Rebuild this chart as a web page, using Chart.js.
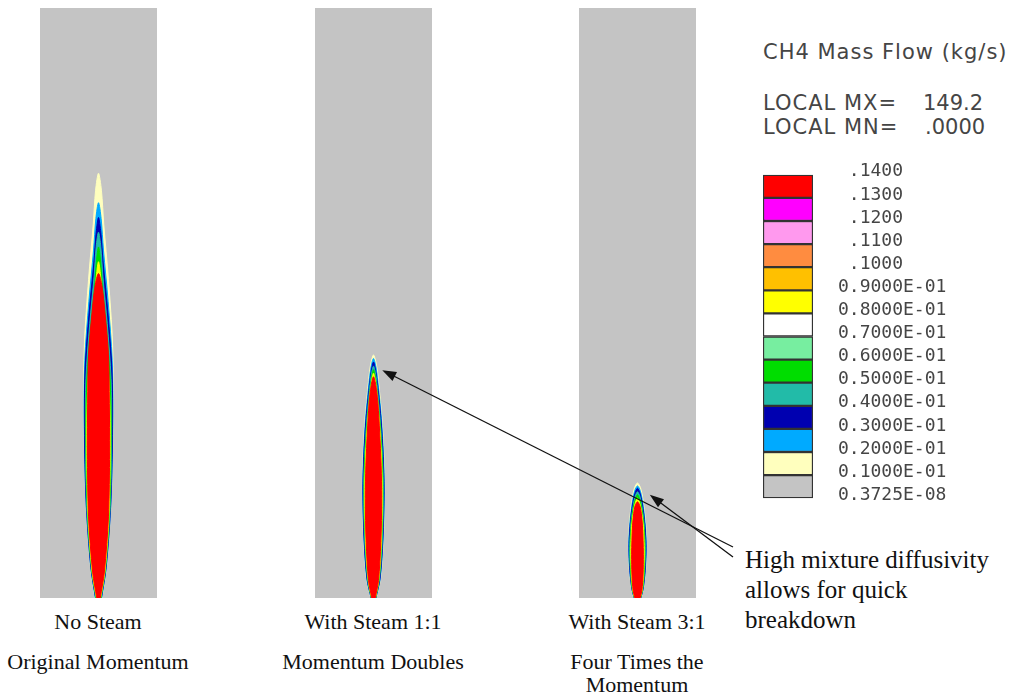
<!DOCTYPE html>
<html>
<head>
<meta charset="utf-8">
<script src="https://cdn.jsdelivr.net/npm/chart.js@4.4.1/dist/chart.umd.min.js"></script>
<style>
  html, body { margin: 0; padding: 0; background: #fff; }
  #page { position: relative; width: 1013px; height: 698px; overflow: hidden; }
  .panel { position: absolute; top: 8px; }
  .cap { position: absolute; font-family: "Liberation Serif", serif; font-size: 22px; color: #111;
         white-space: nowrap; transform: translate(-50%, -50%); }
  .sans { position: absolute; font-family: "DejaVu Sans", sans-serif; font-size: 21px; color: #454545;
          letter-spacing: 1px; white-space: nowrap; transform: translateY(-50%); }
  #note { position: absolute; left: 745px; top: 545px; font-family: "Liberation Serif", serif;
          font-size: 25px; line-height: 30px; color: #111; white-space: nowrap; }
  #scale { position: absolute; left: 763px; top: 139px; }
  #arrows { position: absolute; left: 0; top: 0; pointer-events: none; }
</style>
</head>
<body>
<div id="page">
  <canvas class="panel" id="p0" width="117" height="590" style="left:40px"></canvas>
  <canvas class="panel" id="p1" width="117" height="590" style="left:315px"></canvas>
  <canvas class="panel" id="p2" width="117" height="590" style="left:579px"></canvas>
  <canvas id="scale" width="250" height="395"></canvas>

  <div class="sans" style="left:763px; top:52px">CH4 Mass Flow (kg/s)</div>
  <div class="sans" style="left:763px; top:103px">LOCAL MX=</div>
  <div class="sans" style="left:923px; top:103px; letter-spacing:0">149.2</div>
  <div class="sans" style="left:763px; top:127px">LOCAL MN=</div>
  <div class="sans" style="left:925px; top:127px; letter-spacing:0">.0000</div>

  <div class="cap" style="left:98px; top:622px">No Steam</div>
  <div class="cap" style="left:98px; top:662px">Original Momentum</div>
  <div class="cap" style="left:373px; top:622px">With Steam 1:1</div>
  <div class="cap" style="left:373px; top:662px">Momentum Doubles</div>
  <div class="cap" style="left:637px; top:622px">With Steam 3:1</div>
  <div class="cap" style="left:637px; top:662px">Four Times the</div>
  <div class="cap" style="left:637px; top:685px">Momentum</div>

  <div id="note">High mixture diffusivity<br>allows for quick<br>breakdown</div>
  <canvas id="arrows" width="1013" height="698"></canvas>
</div>

<script>
// colour bar, bottom to top
const levelColors = ['#c4c4c4', '#ffffbe', '#00aaff', '#0000b0', '#22bba8', '#00dd00', '#77eea0',
                     '#ffffff', '#ffff00', '#ffc000', '#ff8c40', '#ff99ee', '#ff00ff', '#ff0000'];
const levelLabels = ['0.3725E-08', '0.1000E-01', '0.2000E-01', '0.3000E-01', '0.4000E-01', '0.5000E-01',
                     '0.6000E-01', '0.7000E-01', '0.8000E-01', '0.9000E-01', ' .1000', ' .1100',
                     ' .1200', ' .1300', ' .1400'];

// flame contours: which levels are drawn, stations along each contour (fraction of its tip height)
const contourLevels = [1, 2, 3, 4, 5, 8, 13];
const stationFrac = [0, 0.08, 0.25, 0.45, 0.6, 0.75, 0.88, 0.96, 1];

// domain: x = -1..1 across the pipe, y = 0..10 up the pipe
const tipsNoSteam = [7.2, 6.7, 6.45, 6.2, 5.95, 5.7, 5.5];
const widthsNoSteam = [
  [0.06, 0.14, 0.22, 0.25, 0.24, 0.17, 0.09, 0.05, 0],
  [0.055, 0.135, 0.215, 0.245, 0.235, 0.165, 0.085, 0.045, 0],
  [0.05, 0.13, 0.21, 0.24, 0.23, 0.16, 0.08, 0.04, 0],
  [0.045, 0.12, 0.2, 0.225, 0.215, 0.15, 0.075, 0.04, 0],
  [0.04, 0.115, 0.19, 0.215, 0.205, 0.145, 0.07, 0.035, 0],
  [0.035, 0.11, 0.18, 0.2, 0.19, 0.14, 0.07, 0.035, 0],
  [0.03, 0.1, 0.17, 0.19, 0.185, 0.17, 0.11, 0.06, 0]
];
const tipsSteam11 = [4.12, 4.06, 4.0, 3.93, 3.87, 3.81, 3.75];
const widthsSteam11 = [
  [0.045, 0.12, 0.17, 0.19, 0.175, 0.14, 0.09, 0.05, 0],
  [0.042, 0.115, 0.165, 0.185, 0.17, 0.135, 0.085, 0.045, 0],
  [0.04, 0.11, 0.16, 0.18, 0.165, 0.13, 0.08, 0.04, 0],
  [0.037, 0.1, 0.15, 0.17, 0.155, 0.12, 0.075, 0.04, 0],
  [0.035, 0.095, 0.14, 0.16, 0.15, 0.115, 0.07, 0.035, 0],
  [0.033, 0.09, 0.135, 0.15, 0.14, 0.11, 0.07, 0.035, 0],
  [0.03, 0.085, 0.125, 0.14, 0.13, 0.105, 0.075, 0.04, 0]
];
const tipsSteam31 = [1.95, 1.9, 1.86, 1.8, 1.75, 1.69, 1.63];
const widthsSteam31 = [
  [0.06, 0.1, 0.14, 0.155, 0.145, 0.12, 0.085, 0.05, 0],
  [0.057, 0.097, 0.135, 0.15, 0.14, 0.115, 0.08, 0.045, 0],
  [0.055, 0.095, 0.13, 0.145, 0.135, 0.11, 0.075, 0.04, 0],
  [0.052, 0.09, 0.12, 0.135, 0.125, 0.105, 0.07, 0.04, 0],
  [0.05, 0.085, 0.115, 0.125, 0.12, 0.1, 0.07, 0.035, 0],
  [0.048, 0.08, 0.105, 0.115, 0.11, 0.095, 0.065, 0.035, 0],
  [0.045, 0.075, 0.095, 0.1, 0.095, 0.085, 0.065, 0.04, 0]
];

// arrow heads: [panel, x, y] in the panel's own units
const arrowTargets = [[1, 0.15, 3.86], [2, 0.21, 1.75]];

// gray fill for the whole domain
const domainFill = {
  id: 'domainFill',
  beforeDraw(chart) {
    const a = chart.chartArea, ctx = chart.ctx;
    ctx.save();
    ctx.fillStyle = levelColors[0];
    ctx.fillRect(a.left, a.top, a.width, a.height);
    ctx.restore();
  }
};

function flameDatasets(tips, widths) {
  return contourLevels.map((lvl, k) => {
    const r = widths[k], tip = tips[k];
    const left = stationFrac.map((f, i) => ({ x: -r[i], y: tip * f }));
    const right = stationFrac.slice(0, -1).map((f, i) => ({ x: r[i], y: tip * f })).reverse();
    return {
      data: left.concat(right),
      showLine: true,
      fill: 'shape',
      backgroundColor: levelColors[lvl],
      borderColor: levelColors[lvl],
      borderWidth: 1,
      pointRadius: 0,
      tension: 0.3,
      order: contourLevels.length - k
    };
  });
}

function makePanel(id, tips, widths) {
  return new Chart(document.getElementById(id), {
    type: 'scatter',
    data: { datasets: flameDatasets(tips, widths) },
    options: {
      responsive: false, animation: false, events: [],
      layout: { padding: 0 },
      plugins: { legend: { display: false }, tooltip: { enabled: false } },
      scales: {
        x: { type: 'linear', min: -1, max: 1, display: false },
        y: { type: 'linear', min: 0, max: 10, display: false }
      }
    },
    plugins: [domainFill]
  });
}

const panels = [
  makePanel('p0', tipsNoSteam, widthsNoSteam),
  makePanel('p1', tipsSteam11, widthsSteam11),
  makePanel('p2', tipsSteam31, widthsSteam31)
];

// colour bar (tick padding also pads the axis ends, so the canvas is taller than the bar)
new Chart(document.getElementById('scale'), {
  type: 'bar',
  data: {
    labels: [''],
    datasets: levelColors.map(c => ({
      data: [1], backgroundColor: c, borderColor: '#333', borderWidth: 1.5,
      borderSkipped: false, barPercentage: 1, categoryPercentage: 1
    }))
  },
  options: {
    responsive: false, animation: false, events: [],
    layout: { padding: 0 },
    plugins: { legend: { display: false }, tooltip: { enabled: false } },
    scales: {
      x: { stacked: true, display: false },
      y: {
        stacked: true, position: 'right', min: 0, max: 14,
        grid: { display: false, drawTicks: false }, border: { display: false },
        afterFit(s) { s.width = 200; },
        ticks: {
          stepSize: 1, autoSkip: false, padding: 25, labelOffset: -3, color: '#454545',
          font: { family: "'DejaVu Sans Mono', monospace", size: 18 },
          callback: v => levelLabels[Math.round(v)]
        }
      }
    }
  }
});

// arrows from the note to the flame tips
const actx = document.getElementById('arrows').getContext('2d');
const note = document.getElementById('note');
const tails = [[note.offsetLeft - 12, note.offsetTop + 2], [note.offsetLeft - 12, note.offsetTop + 12]];
arrowTargets.forEach(([p, x, y], i) => {
  const ch = panels[p], cv = ch.canvas;
  const tx = cv.offsetLeft + ch.scales.x.getPixelForValue(x);
  const ty = cv.offsetTop + ch.scales.y.getPixelForValue(y);
  const [sx, sy] = tails[i];
  const ang = Math.atan2(ty - sy, tx - sx);
  actx.strokeStyle = '#111';
  actx.fillStyle = '#111';
  actx.lineWidth = 1.3;
  actx.beginPath();
  actx.moveTo(sx, sy);
  actx.lineTo(tx - 10 * Math.cos(ang), ty - 10 * Math.sin(ang));
  actx.stroke();
  actx.beginPath();
  actx.moveTo(tx, ty);
  actx.lineTo(tx - 14 * Math.cos(ang) + 5 * Math.sin(ang), ty - 14 * Math.sin(ang) - 5 * Math.cos(ang));
  actx.lineTo(tx - 14 * Math.cos(ang) - 5 * Math.sin(ang), ty - 14 * Math.sin(ang) + 5 * Math.cos(ang));
  actx.closePath();
  actx.fill();
});
</script>
</body>
</html>
